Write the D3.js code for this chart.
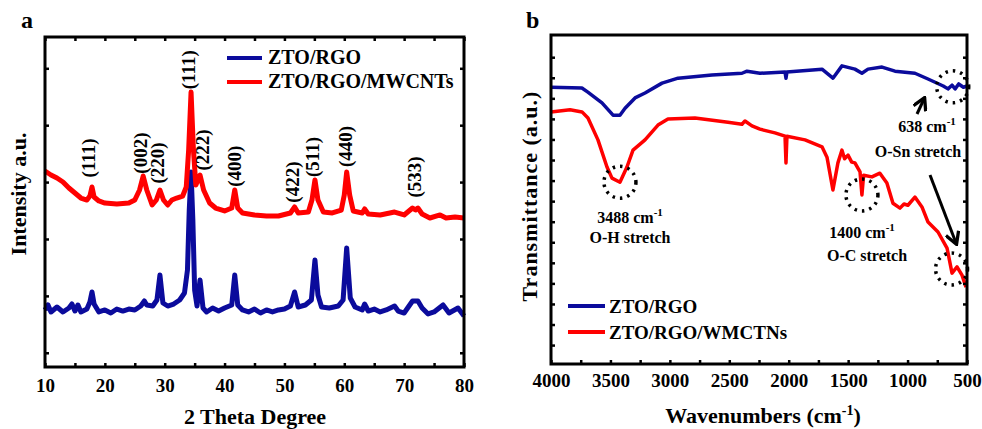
<html>
<meta charset="utf-8">
<body style="margin:0;background:#fff">
<script src="https://d3js.org/d3.v7.min.js"></script>
<div id="chart"></div>
<script>

// ---- panel a : XRD ----
var seriesNames = ["ZTO/RGO", "ZTO/RGO/MWCNTs"]
var ftirNames = ["ZTO/RGO", "ZTO/RGO/WMCTNs"]

var cntTheta = [10, 11, 12, 13, 14, 15, 16, 17, 17.5, 17.85, 18.2, 19, 20, 22, 24, 25, 25.8, 26.4, 27, 27.9,
  28.6, 29.2, 29.8, 30.5, 31.2, 32, 33, 33.6, 34, 34.4, 34.8, 35.2, 35.9, 36.5, 37.5, 38.5, 40, 41.2, 41.7,
  42.2, 43, 45, 47, 49, 51, 51.7, 52.3, 54, 54.6, 55.1, 55.6, 56.5, 58, 59.5, 60, 60.4, 60.9, 61.5, 63, 63.4,
  64, 66, 68.4, 70, 71.4, 71.9, 72.3, 73, 74.3, 76, 77, 78.5, 80]
var cntIntensity = [3445, 3375, 3322, 3252, 3146, 3058, 2970, 2935, 3005, 3164, 2988, 2918, 2882, 2865, 2882,
  2935, 3111, 3357, 3111, 2847, 2935, 3111, 2935, 2847, 2935, 2970, 3005, 3164, 3814, 4833, 3814, 3199, 3375,
  3111, 2882, 2794, 2742, 2794, 3111, 2794, 2707, 2672, 2654, 2654, 2707, 2812, 2707, 2724, 2935, 3287, 2935,
  2724, 2707, 2759, 3023, 3427, 3023, 2742, 2707, 2777, 2689, 2672, 2724, 2672, 2794, 2760, 2794, 2689, 2619,
  2672, 2619, 2637, 2619]

var rgoTheta = [10, 10.5, 11, 12, 13, 14, 14.5, 15, 15.5, 16, 17, 17.5, 17.85, 18.2, 19, 20, 21, 22, 23, 24,
  25, 26, 26.6, 27, 28, 28.7, 29.2, 29.7, 30.5, 31.5, 32.5, 33.3, 33.8, 34.1, 34.4, 34.7, 35, 35.4, 35.9, 36.4,
  37, 38, 39, 40, 41.2, 41.7, 42.2, 43, 44, 45, 46, 47, 48, 49, 50, 51, 51.7, 52.3, 53.5, 54.5, 55.1, 55.6,
  56.2, 57.5, 59, 59.8, 60.4, 61, 61.8, 63, 63.4, 64, 65, 66, 67, 68.4, 69, 70, 71.4, 72.3, 73, 74, 75, 76.5,
  77.5, 79, 80]
var rgoIntensity = [1002, 1090, 967, 1055, 967, 1037, 1107, 984, 1090, 967, 1019, 1142, 1318, 1107, 967, 1002,
  949, 1019, 984, 1019, 1002, 1072, 1160, 1090, 1072, 1178, 1617, 1125, 1072, 1107, 1178, 1301, 1705, 2759,
  3427, 2584, 1353, 1072, 1529, 1037, 967, 1037, 984, 1037, 1090, 1617, 1090, 1002, 967, 1019, 949, 1002, 967,
  1002, 1019, 1072, 1318, 1055, 1090, 1178, 1881, 1265, 1055, 1037, 1072, 1178, 2092, 1213, 1055, 1002, 1107,
  984, 1019, 967, 1002, 1072, 984, 949, 1160, 1160, 1037, 932, 967, 1090, 949, 1037, 896]

var peakLabels = ["(111)", "(002)", "(220)", "(111)", "(222)", "(400)", "(422)", "(511)", "(440)", "(533)"]
var peakTheta = [17.6, 26.2, 29.1, 34.2, 36.5, 41.9, 51.6, 54.9, 60.5, 71.9]
var peakHeight = [3675, 3760, 3585, 5225, 3815, 3530, 3250, 3690, 3875, 3340]

// ---- panel b : FTIR ----
var rgoWave = [4000, 3740, 3690, 3571, 3478, 3420, 3377, 3293, 3209, 3066, 2931, 2646, 2393, 2351, 2242, 2031,
  2023, 2015, 1720, 1628, 1552, 1443, 1384, 1333, 1215, 1106, 938, 828, 700, 660, 626, 600, 570, 530, 500]
var rgoTrans = [67.7, 67.5, 66.5, 63.9, 60.9, 60.9, 62.6, 65.1, 66.3, 68.7, 69.9, 70.7, 71.1, 71.6, 71.1, 71.4,
  69.9, 71.4, 72.1, 69.9, 72.9, 72.1, 71.1, 72.1, 72.6, 71.6, 71.1, 69.7, 68.0, 67.3, 68.2, 67.3, 68.5, 67.7, 68.0]

var cntWave = [4000, 3840, 3739, 3689, 3605, 3529, 3487, 3420, 3361, 3310, 3209, 3100, 3016, 2789, 2511, 2393,
  2368, 2309, 2242, 2116, 2031, 2023, 2015, 1863, 1720, 1678, 1628, 1586, 1552, 1530, 1501, 1470, 1443, 1400,
  1384, 1370, 1300, 1233, 1174, 1123, 1064, 1030, 997, 938, 879, 828, 744, 668, 626, 584, 542, 508]
var cntTrans = [61.7, 62.2, 61.7, 60.2, 54.9, 48.3, 45.6, 44.6, 48.3, 52.4, 54.9, 58.5, 60.0, 60.2, 59.2, 58.7,
  59.5, 58.3, 57.5, 56.6, 55.8, 49.3, 55.8, 54.9, 53.2, 50.7, 42.7, 49.3, 52.4, 50.3, 51.2, 49.5, 49.3, 47.1,
  41.5, 46.3, 45.9, 46.8, 44.4, 39.5, 38.3, 39.3, 39.0, 41.0, 38.6, 34.9, 32.5, 28.6, 22.5, 24.0, 22.0, 19.1]

var blue = "#0b0b9c", red = "#ff0000"
var font = "'Liberation Serif', 'Times New Roman', serif"

var svg = d3.select("#chart").append("svg")
  .attr("width", 982).attr("height", 429)
  .style("font-family", font).style("font-weight", "bold")

function frame(x, y, xTicks, xLabel, yTicks, top) {
  var g = svg.append("g")
  var x0 = x.range()[0], x1 = x.range()[1], y0 = y.range()[0], y1 = y.range()[1]
  var bottom = g.append("g").attr("transform", "translate(0," + y0 + ")")
    .call(d3.axisBottom(x).tickValues(xTicks).tickSizeInner(-4).tickSizeOuter(0)
      .tickPadding(top.pad).tickFormat(function(d) { return xLabel(d) ? d : "" }))
  bottom.selectAll("text").style("font-size", "19px").style("font-family", font).attr("fill", "#000")
  if (top.show) {
    g.append("g").attr("transform", "translate(0," + y1 + ")")
      .call(d3.axisTop(x).tickValues(xTicks).tickSizeInner(-4).tickSizeOuter(0).tickFormat(""))
  }
  g.append("g").attr("transform", "translate(" + x0 + ",0)")
    .call(d3.axisLeft(y).tickValues(yTicks).tickSizeInner(-4).tickSizeOuter(0).tickFormat(""))
  g.append("g").attr("transform", "translate(" + x1 + ",0)")
    .call(d3.axisRight(y).tickValues(yTicks).tickSizeInner(-4).tickSizeOuter(0).tickFormat(""))
  g.selectAll(".domain").remove()
  g.selectAll(".tick line").attr("stroke", "#000").attr("stroke-width", 2.5)
  g.append("rect").attr("x", x0).attr("y", y1).attr("width", x1 - x0).attr("height", y0 - y1)
    .attr("fill", "none").attr("stroke", "#000").attr("stroke-width", 3)
}

// panel a
var xa = d3.scaleLinear().domain([10, 80]).range([45, 464])
var ya = d3.scaleLinear().domain([0, 5800]).range([367, 37])

var lineA = d3.line().x(function(d) { return xa(d[0]) }).y(function(d) { return ya(d[1]) })
svg.append("path").datum(d3.zip(rgoTheta, rgoIntensity)).attr("d", lineA)
  .attr("fill", "none").attr("stroke", blue).attr("stroke-width", 5).attr("stroke-linejoin", "round")
svg.append("path").datum(d3.zip(cntTheta, cntIntensity)).attr("d", lineA)
  .attr("fill", "none").attr("stroke", red).attr("stroke-width", 5).attr("stroke-linejoin", "round")

frame(xa, ya, d3.range(10, 81, 5), function(d) { return d % 10 == 0 }, d3.range(250, 5300, 1000), {show: true, pad: 12})

svg.selectAll(".peak").data(peakLabels).enter().append("text")
  .attr("transform", function(d, i) { return "translate(" + (xa(peakTheta[i]) + 5) + "," + ya(peakHeight[i]) + ") rotate(-90)" })
  .attr("text-anchor", "middle").style("font-size", "19px").text(function(d) { return d })

// legend a
seriesNames.forEach(function(n, i) {
  var yy = 58 + i * 24
  svg.append("line").attr("x1", 227).attr("x2", 262).attr("y1", yy).attr("y2", yy)
    .attr("stroke", i == 0 ? blue : red).attr("stroke-width", 4)
  svg.append("text").attr("x", 268).attr("y", yy + 6).style("font-size", "20px").text(n)
})

svg.append("text").attr("x", 21).attr("y", 28).style("font-size", "24px").text("a")
svg.append("text").attr("x", 255).attr("y", 424).attr("text-anchor", "middle").style("font-size", "22px").text("2 Theta Degree")
svg.append("text").attr("transform", "translate(26,194) rotate(-90)").attr("text-anchor", "middle")
  .style("font-size", "22px").text("Intensity a.u.")

// panel b
var xb = d3.scaleLinear().domain([4000, 500]).range([551, 967])
var yb = d3.scaleLinear().domain([0.4, 80.4]).range([364, 35])

var lineB = d3.line().x(function(d) { return xb(d[0]) }).y(function(d) { return yb(d[1]) })
svg.append("path").datum(d3.zip(rgoWave, rgoTrans)).attr("d", lineB)
  .attr("fill", "none").attr("stroke", blue).attr("stroke-width", 3.5).attr("stroke-linejoin", "round")
svg.append("path").datum(d3.zip(cntWave, cntTrans)).attr("d", lineB)
  .attr("fill", "none").attr("stroke", red).attr("stroke-width", 3.5).attr("stroke-linejoin", "round")

frame(xb, yb, d3.range(4000, 499, -250), function(d) { return d % 500 == 0 }, d3.range(5, 76, 5), {show: false, pad: 10})

// dotted circles around the bands
var circleWave = [3420, 1384, 620, 630]
var circleTrans = [44.6, 41.5, 67.8, 23.5]
svg.selectAll(".ring").data(circleWave).enter().append("circle")
  .attr("cx", function(d) { return xb(d) }).attr("cy", function(d, i) { return yb(circleTrans[i]) })
  .attr("r", 16).attr("fill", "none").attr("stroke", "#000").attr("stroke-width", 3.5)
  .attr("stroke-dasharray", "2.5,5")

svg.append("defs").append("marker").attr("id", "head").attr("viewBox", "0 0 10 10")
  .attr("refX", 8).attr("refY", 5).attr("markerWidth", 5).attr("markerHeight", 5)
  .attr("markerUnits", "strokeWidth").attr("orient", "auto")
  .append("path").attr("d", "M1,0.5 L9,5 L1,9.5").attr("fill", "none").attr("stroke", "#000")
  .attr("stroke-width", 2.2).attr("stroke-linejoin", "miter")
svg.append("line").attr("x1", 917).attr("y1", 114).attr("x2", 924).attr("y2", 99)
  .attr("stroke", "#000").attr("stroke-width", 3).attr("marker-end", "url(#head)")
svg.append("line").attr("x1", 930).attr("y1", 175).attr("x2", 956).attr("y2", 243)
  .attr("stroke", "#000").attr("stroke-width", 3).attr("marker-end", "url(#head)")

var notes = [
  {x: 630, y: 223, t: "3488 cm", s: "-1"}, {x: 630, y: 243, t: "O-H stretch"},
  {x: 862, y: 238, t: "1400 cm", s: "-1"}, {x: 867, y: 261, t: "O-C stretch"},
  {x: 927, y: 132, t: "638 cm", s: "-1"}, {x: 918, y: 157, t: "O-Sn stretch"}]
notes.forEach(function(n) {
  var t = svg.append("text").attr("x", n.x).attr("y", n.y).attr("text-anchor", "middle").style("font-size", "16px")
  t.append("tspan").text(n.t)
  if (n.s) t.append("tspan").attr("dy", -7).style("font-size", "11px").text(n.s)
})

ftirNames.forEach(function(n, i) {
  var yy = 306 + i * 26
  svg.append("line").attr("x1", 568).attr("x2", 605).attr("y1", yy).attr("y2", yy)
    .attr("stroke", i == 0 ? blue : red).attr("stroke-width", 4)
  svg.append("text").attr("x", 609).attr("y", yy + 7).style("font-size", "19px").text(n)
})

svg.append("text").attr("x", 526).attr("y", 28).style("font-size", "24px").text("b")
var xt = svg.append("text").attr("x", 763).attr("y", 423).attr("text-anchor", "middle").style("font-size", "22px")
xt.append("tspan").text("Wavenumbers (cm")
xt.append("tspan").attr("dy", -8).style("font-size", "14px").text("-1")
xt.append("tspan").attr("dy", 8).text(")")
svg.append("text").attr("transform", "translate(537,196) rotate(-90)").attr("text-anchor", "middle")
  .style("font-size", "22px").style("letter-spacing", "1px").text("Transmittance (a.u.)")

</script>
</body>
</html>
